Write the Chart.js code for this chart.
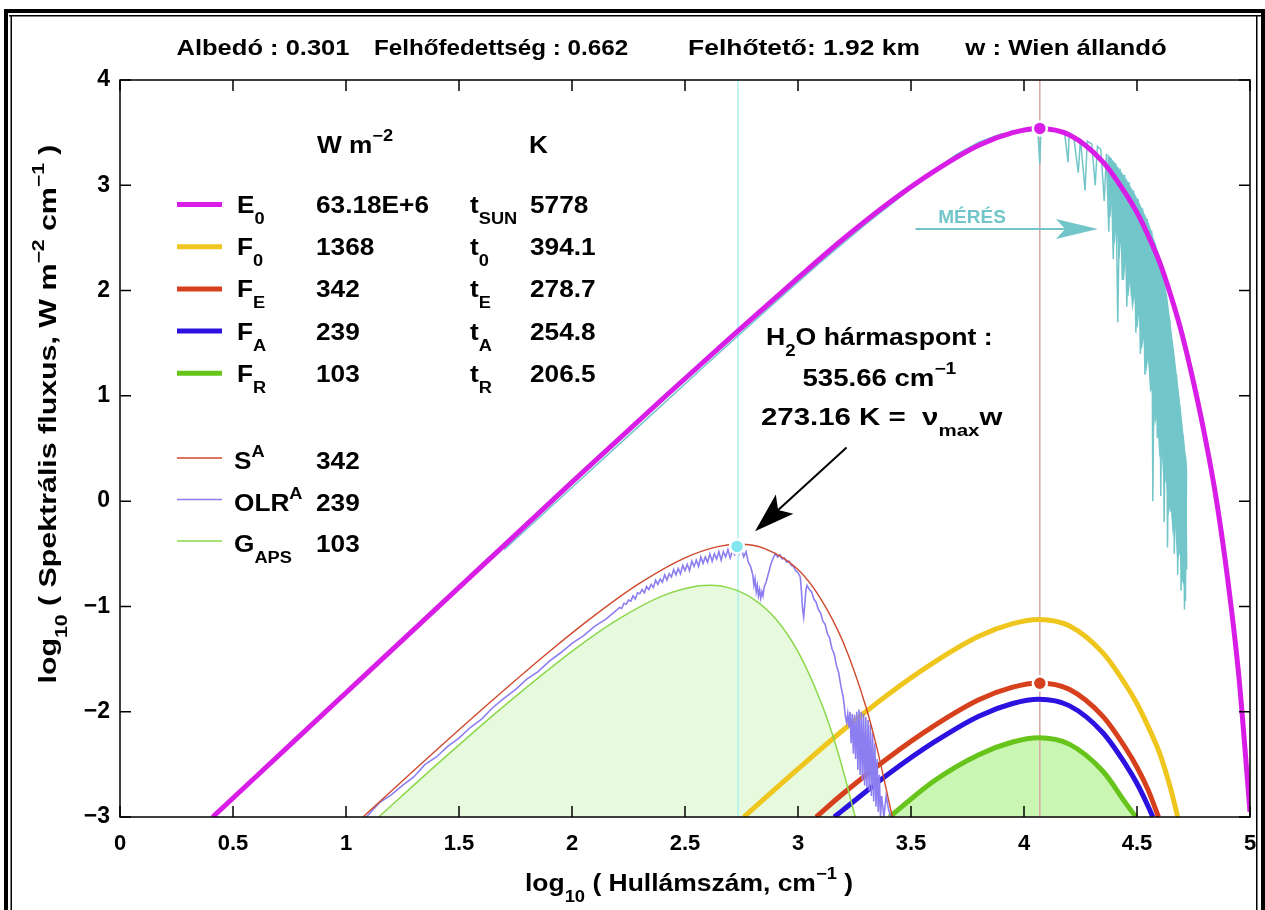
<!DOCTYPE html>
<html>
<head>
<meta charset="utf-8">
<script src="https://cdn.jsdelivr.net/npm/chart.js@4.4.1/dist/chart.umd.min.js"></script>
<style>
  html, body { margin: 0; padding: 0; background: #fff; }
  #marco { position: relative; width: 1265px; height: 910px; }
</style>
</head>
<body>
<div id="marco"><canvas id="graficoEspectro" width="1265" height="910"></canvas></div>
<script>
// Datos: [log10 hullamszam, log10 fluxus]
const curvaE0 = [[0.41,-3.0],[0.8,-2.22],[1.2,-1.42],[1.6,-0.62],[2.0,0.18],[2.4,0.97],[2.7,1.55],[3.0,2.12],[3.2,2.49],[3.4,2.83],[3.6,3.13],[3.8,3.38],[3.95,3.50],[4.065,3.54],[4.2,3.48],[4.35,3.22],[4.45,2.92],[4.5,2.74],[4.55,2.52],[4.6,2.27],[4.65,1.95],[4.7,1.58],[4.75,1.13],[4.8,0.62],[4.85,0.03],[4.9,-0.72],[4.95,-1.65],[5.0,-2.95]];
const curvaF0 = [[2.76,-3.0],[3.0,-2.544],[3.2,-2.174],[3.4,-1.834],[3.6,-1.534],[3.8,-1.284],[3.95,-1.164],[4.065,-1.124],[4.2,-1.184],[4.35,-1.444],[4.45,-1.744],[4.5,-1.924],[4.55,-2.144],[4.6,-2.394],[4.65,-2.74],[4.68,-3.0]];
const curvaFE = [[3.08,-3.0],[3.2,-2.777],[3.4,-2.437],[3.6,-2.137],[3.8,-1.887],[3.95,-1.767],[4.065,-1.727],[4.2,-1.787],[4.35,-2.047],[4.45,-2.347],[4.5,-2.527],[4.55,-2.747],[4.595,-3.0]];
const curvaFA = [[3.16,-3.0],[3.2,-2.932],[3.4,-2.592],[3.6,-2.292],[3.8,-2.042],[3.95,-1.922],[4.065,-1.882],[4.2,-1.942],[4.35,-2.202],[4.45,-2.502],[4.5,-2.682],[4.55,-2.902],[4.57,-3.0]];
const curvaFR = [[3.405,-3.0],[3.6,-2.66],[3.8,-2.408],[3.95,-2.288],[4.065,-2.248],[4.2,-2.308],[4.35,-2.568],[4.45,-2.868],[4.495,-3.0]];
const curvaSA = [[1.075,-3.0],[1.3,-2.558],[1.6,-1.981],[1.9,-1.428],[2.1,-1.085],[2.3,-0.779],[2.5,-0.538],[2.65,-0.429],[2.74,-0.41],[2.85,-0.449],[3.0,-0.65],[3.1,-0.925],[3.2,-1.34],[3.3,-1.95],[3.35,-2.35],[3.4,-2.83],[3.418,-3.0]];
const curvaGAPS = [[1.145,-3.0],[1.4,-2.505],[1.7,-1.944],[2.0,-1.426],[2.2,-1.128],[2.4,-0.900],[2.55,-0.809],[2.62,-0.80],[2.7,-0.826],[2.8,-0.925],[2.9,-1.115],[3.0,-1.43],[3.1,-1.90],[3.15,-2.20],[3.2,-2.56],[3.25,-2.97],[3.254,-3.0]];
const espectroOLR = [[1.09,-3.0],[1.12,-2.93],[1.15,-2.86],[1.2,-2.79],[1.25,-2.70],[1.3,-2.62],[1.35,-2.50],[1.4,-2.43],[1.45,-2.33],[1.5,-2.25],[1.55,-2.15],[1.6,-2.07],[1.65,-1.96],[1.7,-1.87],[1.75,-1.79],[1.8,-1.69],[1.85,-1.62],[1.9,-1.52],[1.95,-1.44],[2.0,-1.35],[2.05,-1.28],[2.1,-1.19],[2.15,-1.12],
  [2.20,-1.03],[2.21,-1.01],[2.22,-1.02],[2.23,-0.97],[2.24,-0.98],[2.25,-0.94],[2.26,-0.95],[2.27,-0.90],[2.28,-0.93],[2.29,-0.87],[2.30,-0.88],[2.31,-0.84],[2.32,-0.87],[2.33,-0.81],[2.34,-0.84],[2.35,-0.79],[2.36,-0.82],[2.37,-0.75],[2.38,-0.79],[2.39,-0.74],[2.40,-0.77],[2.41,-0.70],[2.42,-0.75],[2.43,-0.69],[2.44,-0.72],[2.45,-0.65],[2.46,-0.70],[2.47,-0.64],[2.48,-0.69],[2.49,-0.61],[2.50,-0.66],[2.51,-0.60],[2.52,-0.66],[2.53,-0.57],[2.54,-0.62],[2.55,-0.56],[2.56,-0.62],[2.57,-0.53],[2.58,-0.59],[2.59,-0.53],[2.60,-0.58],[2.61,-0.50],[2.62,-0.57],[2.63,-0.50],[2.64,-0.55],[2.65,-0.48],[2.66,-0.56],[2.67,-0.48],[2.68,-0.53],[2.69,-0.46],[2.70,-0.54],[2.71,-0.47],[2.72,-0.51],[2.73,-0.45],[2.74,-0.50],[2.75,-0.46],[2.76,-0.53],[2.77,-0.48],[2.78,-0.58],[2.79,-0.62],[2.80,-0.70],[2.805,-0.80],[2.81,-0.74],[2.815,-0.86],[2.82,-0.80],[2.825,-0.90],[2.83,-0.84],[2.835,-0.92],[2.84,-0.86],[2.845,-0.90],[2.85,-0.82],[2.86,-0.76],[2.87,-0.68],[2.88,-0.60],[2.89,-0.54],[2.90,-0.50],[2.91,-0.53],[2.92,-0.51],[2.93,-0.55],[2.94,-0.54],[2.95,-0.58],[2.96,-0.57],[2.97,-0.61],[2.98,-0.62],[2.99,-0.66],[3.0,-0.68],[3.01,-0.72],[3.015,-0.85],[3.02,-1.02],[3.025,-1.10],[3.03,-0.98],[3.035,-0.84],[3.04,-0.80],[3.05,-0.84],[3.06,-0.86],[3.07,-0.93],[3.08,-0.96],[3.09,-1.03],[3.10,-1.06],[3.11,-1.14],[3.12,-1.17],[3.13,-1.26],[3.14,-1.30],[3.15,-1.40],[3.16,-1.45],[3.17,-1.56],[3.18,-1.63],[3.19,-1.76],[3.20,-1.86],[3.205,-1.95],[3.21,-2.05],[3.215,-2.10],[3.22,-2.02],[3.225,-2.15],[3.23,-2.00],[3.235,-2.30],[3.24,-2.02],[3.245,-2.40],[3.25,-2.03],[3.255,-2.45],[3.26,-2.00],[3.265,-2.55],[3.27,-1.98],[3.275,-2.60],[3.28,-2.00],[3.285,-2.65],[3.29,-2.02],[3.295,-2.70],[3.30,-2.05],[3.305,-2.72],[3.31,-2.08],[3.315,-2.75],[3.32,-2.12],[3.325,-2.80],[3.33,-2.20],[3.335,-2.85],[3.34,-2.30],[3.345,-2.90],[3.35,-2.45],[3.355,-2.95],[3.36,-2.60],[3.365,-3.0],[3.37,-2.80],[3.38,-3.0],[3.39,-2.80],[3.40,-2.92],[3.41,-3.0]];
const medicionMERES = [[1.70,-0.46],[2.0,0.13],[2.3,0.72],[2.6,1.31],[2.9,1.89],[3.1,2.27],[3.3,2.63],[3.5,2.97],[3.6,3.14],[3.7,3.29],[3.8,3.41],[3.85,3.45],[3.9,3.49],[3.93,3.47],[3.95,3.52],[3.98,3.50],[4.0,3.54],[4.02,3.51],[4.04,3.55],[4.06,3.56],[4.07,3.20],[4.075,3.55],[4.1,3.54],[4.12,3.53],[4.15,3.51],[4.18,3.49],[4.195,3.22],[4.2,3.48],[4.22,3.46],[4.24,3.12],[4.25,3.44],[4.27,2.95],[4.28,3.42],[4.3,3.39],[4.315,3.00],[4.325,3.37],[4.34,3.34],[4.355,2.85],[4.365,3.30],[4.375,2.56],[4.385,3.26],[4.395,2.30],[4.405,3.21],[4.415,1.70],[4.425,3.16],[4.435,2.10],[4.445,3.10],[4.455,1.85],[4.465,3.03],[4.475,1.95],[4.485,2.95],[4.495,1.60],[4.505,2.87],[4.515,1.40],[4.525,2.78],[4.535,1.20],[4.545,2.68],[4.555,1.50],[4.565,2.57],[4.57,0.00],[4.58,2.45],[4.59,0.60],[4.6,2.31],[4.605,0.05],[4.615,2.15],[4.62,-0.20],[4.63,1.96],[4.635,-0.44],[4.645,1.72],[4.65,-0.10],[4.66,1.45],[4.665,-0.50],[4.675,1.20],[4.68,-0.70],[4.69,0.90],[4.695,-0.85],[4.705,0.62],[4.71,-1.03],[4.715,0.42],[4.72,-0.65]];
const bandaMERESarriba = [[4.37,3.29],[4.40,3.21],[4.45,3.06],[4.50,2.87],[4.55,2.64],[4.60,2.31],[4.63,1.96],[4.66,1.45],[4.69,0.90],[4.71,0.50],[4.72,0.30]];
const bandaMERESabajo = [[4.37,3.05],[4.38,2.70],[4.39,2.90],[4.40,2.45],[4.41,2.75],[4.42,2.30],[4.43,2.55],[4.44,2.10],[4.45,2.35],[4.46,1.95],[4.47,2.15],[4.48,1.85],[4.49,2.00],[4.50,1.65],[4.51,1.85],[4.52,1.45],[4.53,1.60],[4.54,1.25],[4.55,1.40],[4.56,1.05],[4.57,1.10],[4.58,0.75],[4.59,0.85],[4.60,0.45],[4.61,0.55],[4.62,0.15],[4.63,0.25],[4.64,-0.10],[4.65,0.00],[4.66,-0.30],[4.67,-0.20],[4.68,-0.55],[4.69,-0.45],[4.70,-0.75],[4.71,-0.80],[4.715,-0.95],[4.72,0.30]];
const lineaWienSA = [[2.735,-3],[2.735,4]];
const lineaWienSol = [[4.07,-3],[4.07,4]];
const puntoE0 = [[4.07,3.54]];
const puntoFE = [[4.07,-1.73]];
const puntoH2O = [[2.73,-0.43]];

const ticksX = [0, 0.5, 1, 1.5, 2, 2.5, 3, 3.5, 4, 4.5, 5];
const ticksY = [-3, -2, -1, 0, 1, 2, 3, 4];

const filasLeyenda = [
  { color: "#d81ee6", nombre: "E", sub: "0", valor: "63.18E+6", tNombre: "SUN", tValor: "5778" },
  { color: "#efc61e", nombre: "F", sub: "0", valor: "1368", tNombre: "0", tValor: "394.1" },
  { color: "#d6401c", nombre: "F", sub: "E", valor: "342", tNombre: "E", tValor: "278.7" },
  { color: "#2c12e0", nombre: "F", sub: "A", valor: "239", tNombre: "A", tValor: "254.8" },
  { color: "#66c41a", nombre: "F", sub: "R", valor: "103", tNombre: "R", tValor: "206.5" }
];
const filasLeyenda2 = [
  { color: "#d0482c", partes: [["S", "n"], ["A", "sup"]], valor: "342" },
  { color: "#8c7ef0", partes: [["OLR", "n"], ["A", "sup"]], valor: "239" },
  { color: "#8ad84a", partes: [["G", "n"], ["APS", "sub"]], valor: "103" }
];

const fuente = '"Liberation Sans", Arial, Helvetica, sans-serif';
const aXY = arr => arr.map(p => ({ x: p[0], y: p[1] }));

// texto con subindices / superindices, un poco estirado a lo ancho como el original
function textoRico(ctx, partes, x, y, tam, alinear, estirar = 1.14) {
  const chico = Math.round(tam * 0.7);
  let ancho = 0;
  partes.forEach(p => {
    ctx.font = `bold ${p[1] === "n" ? tam : chico}px ${fuente}`;
    ancho += ctx.measureText(p[0]).width;
  });
  ctx.save();
  ctx.translate(x, y);
  ctx.scale(estirar, 1);
  let cx = alinear === "center" ? -ancho / 2 : 0;
  ctx.textAlign = "left";
  ctx.textBaseline = "alphabetic";
  partes.forEach(p => {
    ctx.font = `bold ${p[1] === "n" ? tam : chico}px ${fuente}`;
    let dy = 0;
    if (p[1] === "sub") dy = tam * 0.48;
    if (p[1] === "sup") dy = -tam * 0.52;
    ctx.fillText(p[0], cx, dy);
    cx += ctx.measureText(p[0]).width;
  });
  ctx.restore();
}

function flecha(ctx, x1, y1, x2, y2, largo, ancho, color, grosor) {
  const ang = Math.atan2(y2 - y1, x2 - x1);
  const c = Math.cos(ang), s = Math.sin(ang);
  const bx = x2 - largo * c, by = y2 - largo * s;
  ctx.strokeStyle = color;
  ctx.lineWidth = grosor;
  ctx.beginPath();
  ctx.moveTo(x1, y1);
  ctx.lineTo(x2 - largo * 0.7 * c, y2 - largo * 0.7 * s);
  ctx.stroke();
  ctx.fillStyle = color;
  ctx.beginPath();
  ctx.moveTo(x2, y2);
  ctx.lineTo(bx - s * ancho, by + c * ancho);
  ctx.lineTo(x2 - largo * 0.78 * c, y2 - largo * 0.78 * s);
  ctx.lineTo(bx + s * ancho, by - c * ancho);
  ctx.closePath();
  ctx.fill();
}

const dibujosExtra = {
  id: "dibujosExtra",
  afterDatasetsDraw(chart) {
    const ctx = chart.ctx;
    const a = chart.chartArea;
    const sx = chart.scales.x, sy = chart.scales.y;
    ctx.save();
    // caja y marcas interiores
    ctx.strokeStyle = "#000";
    ctx.lineWidth = 1.5;
    ctx.strokeRect(a.left, a.top, a.right - a.left, a.bottom - a.top);
    ctx.beginPath();
    ticksX.forEach(v => {
      const px = sx.getPixelForValue(v);
      ctx.moveTo(px, a.bottom); ctx.lineTo(px, a.bottom - 11);
      ctx.moveTo(px, a.top); ctx.lineTo(px, a.top + 11);
    });
    ticksY.forEach(v => {
      const py = sy.getPixelForValue(v);
      ctx.moveTo(a.left, py); ctx.lineTo(a.left + 11, py);
      ctx.moveTo(a.right, py); ctx.lineTo(a.right - 11, py);
    });
    ctx.stroke();

    // MERES
    const celeste = "#72c6ca";
    flecha(ctx, sx.getPixelForValue(3.52), sy.getPixelForValue(2.585), sx.getPixelForValue(4.327), sy.getPixelForValue(2.585), 42, 10, celeste, 2);
    ctx.fillStyle = celeste;
    ctx.font = `bold 19px ${fuente}`;
    ctx.textAlign = "center";
    ctx.textBaseline = "alphabetic";
    ctx.fillText("MÉRÉS", sx.getPixelForValue(3.77), sy.getPixelForValue(2.645));

    // H2O
    flecha(ctx, sx.getPixelForValue(3.215), sy.getPixelForValue(0.51), sx.getPixelForValue(2.81), sy.getPixelForValue(-0.285), 40, 13, "#000", 2);
    ctx.fillStyle = "#000";
    textoRico(ctx, [["H", "n"], ["2", "sub"], ["O hármaspont :", "n"]], sx.getPixelForValue(3.36), sy.getPixelForValue(1.483), 23, "center", 1.16);
    textoRico(ctx, [["535.66 cm", "n"], ["−1", "sup"]], sx.getPixelForValue(3.36), sy.getPixelForValue(1.094), 23, "center", 1.2);
    textoRico(ctx, [["273.16 K =  ν", "n"], ["max", "sub"], ["w", "n"]], sx.getPixelForValue(3.37), sy.getPixelForValue(0.724), 23, "center", 1.28);
    ctx.restore();
  },
  afterDraw(chart) {
    const ctx = chart.ctx;
    ctx.save();
    ctx.fillStyle = "#000";
    // encabezado
    textoRico(ctx, [["Albedó : 0.301", "n"]], 263, 55, 22, "center", 1.16);
    textoRico(ctx, [["Felhőfedettség : 0.662", "n"]], 501, 55, 22, "center", 1.1);
    textoRico(ctx, [["Felhőtető: 1.92 km", "n"]], 804, 55, 22, "center", 1.2);
    textoRico(ctx, [["w : Wien állandó", "n"]], 1066, 55, 22, "center", 1.17);

    // leyenda
    textoRico(ctx, [["W m", "n"], ["−2", "sup"]], 317, 153, 23, "left");
    textoRico(ctx, [["K", "n"]], 529, 153, 23, "left");
    filasLeyenda.forEach((f, i) => {
      const yb = 213 + i * 42.2;
      ctx.strokeStyle = f.color;
      ctx.lineWidth = 5;
      ctx.beginPath(); ctx.moveTo(177, yb - 8.5); ctx.lineTo(222, yb - 8.5); ctx.stroke();
      ctx.fillStyle = "#000";
      textoRico(ctx, [[f.nombre, "n"], [f.sub, "sub"]], 237, yb, 23, "left");
      textoRico(ctx, [[f.valor, "n"]], 316, yb, 23, "left");
      textoRico(ctx, [["t", "n"], [f.tNombre, "sub"]], 470, yb, 23, "left");
      textoRico(ctx, [[f.tValor, "n"]], 530, yb, 23, "left");
    });
    filasLeyenda2.forEach((f, i) => {
      const yb = 469 + i * 41.5;
      ctx.strokeStyle = f.color;
      ctx.lineWidth = 1.6;
      ctx.beginPath(); ctx.moveTo(177, yb - 11); ctx.lineTo(222, yb - 11); ctx.stroke();
      ctx.fillStyle = "#000";
      textoRico(ctx, f.partes, 234, yb, 23, "left");
      textoRico(ctx, [[f.valor, "n"]], 316, yb, 23, "left");
    });

    // titulos de ejes
    textoRico(ctx, [["log", "n"], ["10", "sub"], [" ( Hullámszám, cm", "n"], ["−1", "sup"], [" )", "n"]], 689, 891, 23, "center", 1.15);
    ctx.save();
    ctx.translate(56, 414);
    ctx.rotate(-Math.PI / 2);
    textoRico(ctx, [["log", "n"], ["10", "sub"], [" ( Spektrális fluxus, W m", "n"], ["−2", "sup"], [" cm", "n"], ["−1", "sup"], [" )", "n"]], 0, 0, 23, "center", 1.32);
    ctx.restore();

    // marco doble de la figura
    ctx.fillStyle = "#000";
    ctx.fillRect(4, 9, 1261, 4);
    ctx.fillRect(9, 15, 1256, 1.5);
    ctx.fillRect(4, 9, 4, 901);
    ctx.fillRect(10.5, 15, 1.5, 895);
    ctx.fillRect(1256, 15, 1.5, 895);
    ctx.fillRect(1261, 9, 4, 901);
    ctx.restore();
  }
};

const suave = { showLine: true, cubicInterpolationMode: "monotone", pointRadius: 0, clip: 0, fill: false };
const recto = { showLine: true, tension: 0, pointRadius: 0, clip: 0, fill: false };
const celesteMERES = "#72c6ca";

new Chart(document.getElementById("graficoEspectro"), {
  type: "scatter",
  data: {
    datasets: [
      { ...suave, label: "G_APS relleno", data: aXY(curvaGAPS), borderWidth: 0, borderColor: "rgba(0,0,0,0)", fill: "start", backgroundColor: "#e8fade", order: 30 },
      { ...suave, label: "F_R relleno", data: aXY(curvaFR), borderWidth: 0, borderColor: "rgba(0,0,0,0)", fill: "start", backgroundColor: "#c9f7b3", order: 29 },
      { ...recto, label: "Wien S", data: aXY(lineaWienSA), borderColor: "#aeeff3", borderWidth: 1.5, order: 28 },
      { ...recto, label: "Wien Nap", data: aXY(lineaWienSol), borderColor: "#d9a6a6", borderWidth: 1.5, order: 27 },
      { ...recto, label: "MÉRÉS sáv alja", data: aXY(bandaMERESabajo), borderColor: celesteMERES, borderWidth: 1.2, order: 22 },
      { ...recto, label: "MÉRÉS sáv teteje", data: aXY(bandaMERESarriba), borderColor: celesteMERES, borderWidth: 1.2, fill: "-1", backgroundColor: celesteMERES, order: 21 },
      { ...recto, label: "MÉRÉS", data: aXY(medicionMERES), borderColor: celesteMERES, borderWidth: 1.5, order: 20 },
      { ...suave, label: "F0", data: aXY(curvaF0), borderColor: "#efc61e", borderWidth: 5, order: 15 },
      { ...suave, label: "FE", data: aXY(curvaFE), borderColor: "#d6401c", borderWidth: 5, order: 14 },
      { ...suave, label: "FA", data: aXY(curvaFA), borderColor: "#2c12e0", borderWidth: 5, order: 13 },
      { ...suave, label: "FR", data: aXY(curvaFR), borderColor: "#66c41a", borderWidth: 5, order: 12 },
      { ...suave, label: "GAPS", data: aXY(curvaGAPS), borderColor: "#8ad84a", borderWidth: 1.5, order: 10 },
      { ...recto, label: "OLR", data: aXY(espectroOLR), borderColor: "#8c7ef0", borderWidth: 1.6, order: 9 },
      { ...suave, label: "SA", data: aXY(curvaSA), borderColor: "#d0482c", borderWidth: 1.4, order: 8 },
      { ...suave, label: "E0", data: aXY(curvaE0), borderColor: "#d81ee6", borderWidth: 5, order: 5 },
      { label: "pont E0", data: aXY(puntoE0), showLine: false, pointRadius: 7, pointBackgroundColor: "#d81ee6", pointBorderColor: "#fff", pointBorderWidth: 2.5, order: 1 },
      { label: "pont FE", data: aXY(puntoFE), showLine: false, pointRadius: 7, pointBackgroundColor: "#d6401c", pointBorderColor: "#fff", pointBorderWidth: 2.5, order: 1 },
      { label: "pont H2O", data: aXY(puntoH2O), showLine: false, pointRadius: 7, pointBackgroundColor: "#84e6ee", pointBorderColor: "#fff", pointBorderWidth: 2.5, order: 1 }
    ]
  },
  options: {
    responsive: false,
    animation: false,
    devicePixelRatio: 1,
    layout: { padding: { top: 80, right: 15, left: 0, bottom: 0 } },
    plugins: { legend: { display: false }, tooltip: { enabled: false } },
    scales: {
      x: {
        type: "linear", min: 0, max: 5,
        afterFit(s) { s.height = 93; s.paddingRight = 0; s.paddingLeft = 0; },
        grid: { display: false, drawTicks: false }, border: { display: false },
        ticks: {
          stepSize: 0.5, autoSkip: false, maxRotation: 0, padding: 14, color: "#000",
          font: { family: fuente, size: 22, weight: "bold" },
          callback: v => (v % 1 === 0 ? v.toFixed(0) : v.toFixed(1))
        }
      },
      y: {
        type: "linear", min: -3, max: 4,
        afterFit(s) { s.width = 120; s.paddingTop = 0; s.paddingBottom = 0; },
        grid: { display: false, drawTicks: false }, border: { display: false },
        ticks: {
          stepSize: 1, padding: 10, color: "#000",
          font: { family: fuente, size: 23, weight: "bold" },
          callback: v => (v < 0 ? "−" + Math.abs(v) : String(v))
        }
      }
    }
  },
  plugins: [dibujosExtra]
});
</script>
</body>
</html>
